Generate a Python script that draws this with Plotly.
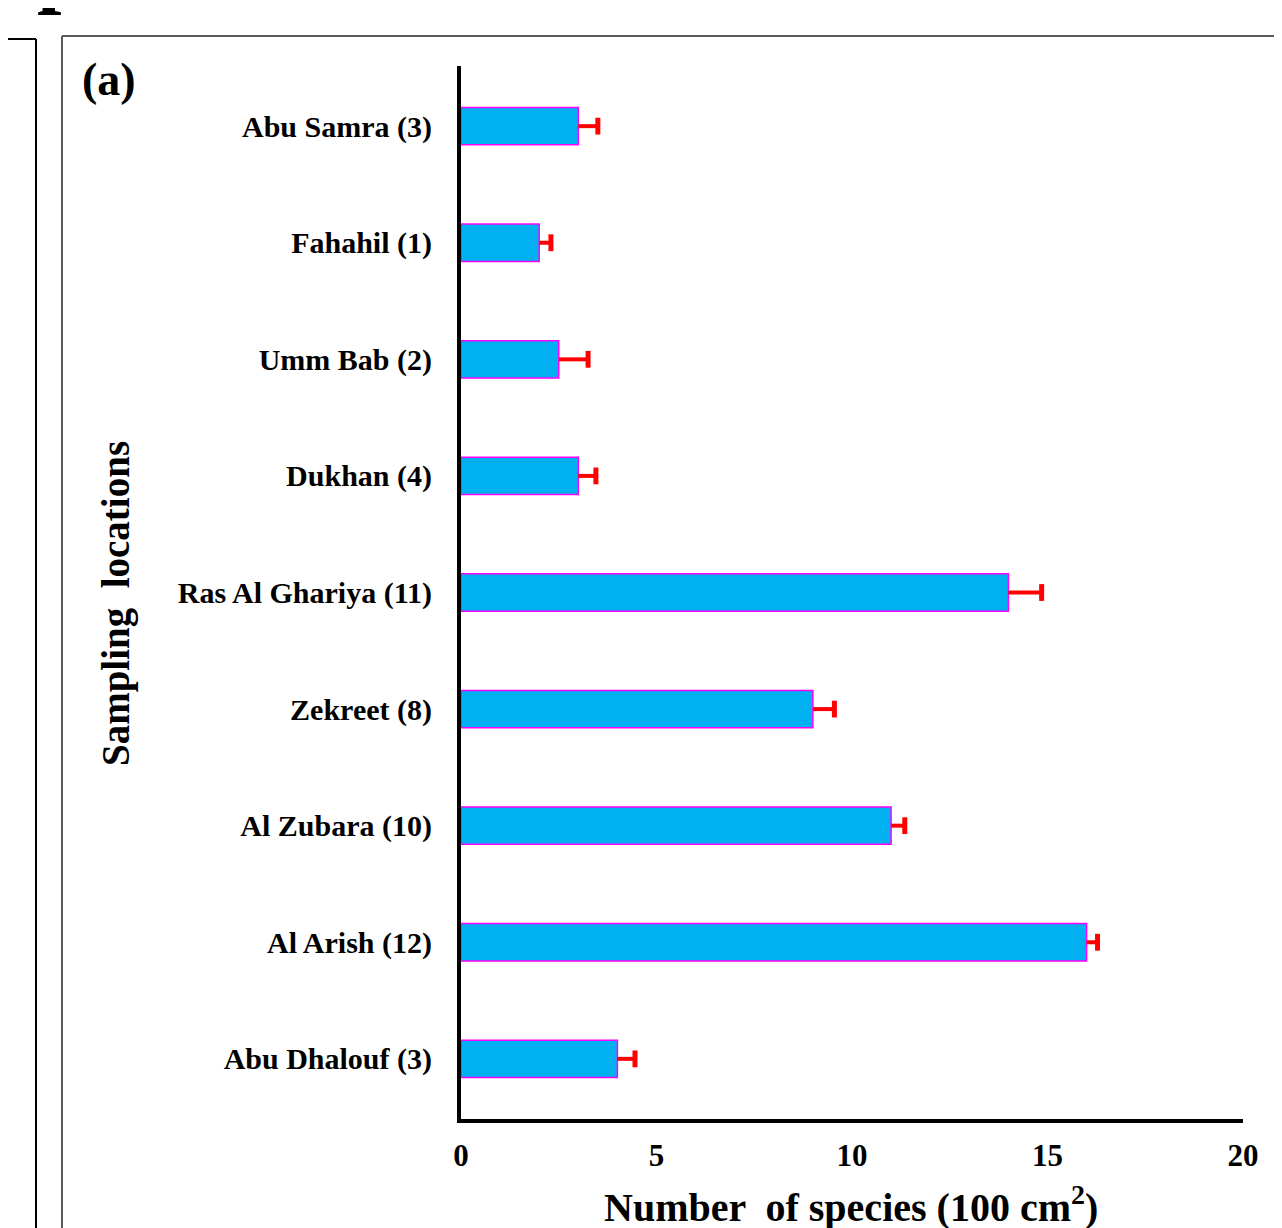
import plotly.graph_objects as go

categories = ["Abu Samra (3)", "Fahahil (1)", "Umm Bab (2)", "Dukhan (4)",
              "Ras Al Ghariya (11)", "Zekreet (8)", "Al Zubara (10)",
              "Al Arish (12)", "Abu Dhalouf (3)"]
values = [3, 2, 2.5, 3, 14, 9, 11, 16, 4]
errors = [0.5, 0.3, 0.75, 0.45, 0.85, 0.55, 0.35, 0.28, 0.45]
x_ticks = [0, 5, 10, 15, 20]

# page body has an 8px margin: work in reference pixels, shift by OFF
OFF = 8
W, H = 1282 - OFF, 1228 - OFF
L, R, T, B = 461 - OFF, 39, 66 - OFF, 109
PW, PH = W - L - R, H - T - B


def px(x):
    return (x - OFF - L) / PW


def py(y):
    return (H - B - (y - OFF)) / PH


FONT = "Liberation Serif, Times New Roman, serif"

fig = go.Figure()
fig.add_trace(go.Bar(
    y=categories, x=values, orientation="h", width=0.32,
    marker=dict(color="#00B0F0", line=dict(color="#FF00FF", width=1.5)),
    error_x=dict(type="data", symmetric=False, array=errors,
                 arrayminus=[0] * len(errors), width=0, thickness=4,
                 color="#FF0000"),
    showlegend=False, hoverinfo="skip",
))
fig.add_trace(go.Scatter(
    y=categories, x=[v + e for v, e in zip(values, errors)], mode="markers",
    marker=dict(symbol="line-ns", size=12, color="#FF0000",
                line=dict(color="#FF0000", width=5)),
    showlegend=False, hoverinfo="skip",
))

shapes = []
shapes.append(dict(type="line", xref="paper", yref="paper",
                   x0=px(62), x1=px(62), y0=py(36), y1=py(1240),
                   line=dict(color="#5a5a5a", width=2)))
shapes.append(dict(type="line", xref="paper", yref="paper",
                   x0=px(62), x1=px(1290), y0=py(36), y1=py(36),
                   line=dict(color="#5a5a5a", width=2)))
shapes.append(dict(type="line", xref="paper", yref="paper",
                   x0=px(36), x1=px(36), y0=py(39), y1=py(1240),
                   line=dict(color="black", width=2)))
shapes.append(dict(type="line", xref="paper", yref="paper",
                   x0=px(8), x1=px(36), y0=py(39), y1=py(39),
                   line=dict(color="black", width=2)))

annotations = [
    dict(text="(a)", xref="paper", yref="paper", x=px(80), y=py(80),
         xanchor="left", yanchor="middle", showarrow=False,
         font=dict(family=FONT, size=46, color="black", weight="bold")),
    dict(text="Sampling  locations", xref="paper", yref="paper",
         x=px(116), y=py(604), textangle=-90, xanchor="center",
         yanchor="middle", showarrow=False,
         font=dict(family=FONT, size=39, color="black", weight="bold")),
    dict(text="Number  of species (100 cm<sup>2</sup>)", xref="paper",
         yref="paper", x=px(851), y=py(1204), xanchor="center",
         yanchor="middle", showarrow=False,
         font=dict(family=FONT, size=40, color="black", weight="bold")),
    dict(text="p", xref="paper", yref="paper", x=px(35), y=py(17),
         xanchor="left", yanchor="bottom", showarrow=False,
         font=dict(family=FONT, size=88, color="black", weight="bold")),
]

fig.update_layout(
    width=W, height=H,
    margin=dict(l=L, r=R, t=T, b=B, pad=0),
    paper_bgcolor="white", plot_bgcolor="white",
    font=dict(family=FONT, color="black", weight="bold"),
    shapes=shapes, annotations=annotations,
)
fig.update_xaxes(range=[0, 20], tickvals=x_ticks, ticktext=[str(t) for t in x_ticks],
                 showgrid=False, zeroline=False, showline=True, linewidth=4,
                 linecolor="black", ticks="", ticklabelstandoff=6,
                 tickfont=dict(family=FONT, size=31, color="black", weight="bold"))
fig.update_yaxes(categoryorder="array", categoryarray=categories,
                 autorange="reversed", showgrid=False, zeroline=False,
                 showline=True, linewidth=4, linecolor="black", ticks="",
                 ticklabelstandoff=19,
                 tickfont=dict(family=FONT, size=30, color="black", weight="bold"))

fig.write_html("out.html")
